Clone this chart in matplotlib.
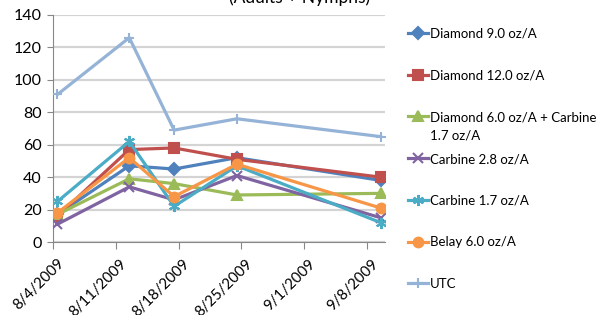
import numpy as np
import pandas as pd
import matplotlib
matplotlib.use('Agg')
import matplotlib.pyplot as plt
import matplotlib.transforms as mtransforms
from matplotlib.lines import Line2D

plt.rcParams['font.family'] = ['Lato', 'DejaVu Sans']

# sample dates (Excel date axis puts points at the middle of the day)
dates = ['2009-08-04', '2009-08-12', '2009-08-17', '2009-08-24', '2009-09-09']

diamond_9 = [17, 47, 45, 52, 38]
diamond_12 = [16, 57, 58, 51, 40]
diamond_carbine = [17, 39, 36, 29, 30]
carbine_28 = [11, 34, 26, 41, 15]
carbine_17 = [25, 62, 22, 47, 12]
belay_6 = [18, 52, 28, 48, 21]
utc = [91, 126, 69, 76, 65]

labels = ['Diamond 9.0 oz/A', 'Diamond 12.0 oz/A', 'Diamond 6.0 oz/A + Carbine\n1.7 oz/A',
          'Carbine 2.8 oz/A', 'Carbine 1.7 oz/A', 'Belay 6.0 oz/A', 'UTC']
tick_dates = ['2009-08-04', '2009-08-11', '2009-08-18', '2009-08-25', '2009-09-01', '2009-09-08']
tick_labels = ['8/4/2009', '8/11/2009', '8/18/2009', '8/25/2009', '9/1/2009', '9/8/2009']

series = [diamond_9, diamond_12, diamond_carbine, carbine_28, carbine_17, belay_6, utc]
colors = ['#4F81BD', '#C0504D', '#9BBB59', '#8064A2', '#4BACC6', '#F79646', '#95B3D7']
markers = ['D', 's', '^', 'x', (6, 2, 0), 'o', '+']
msizes = [6, 7, 7, 7, 8, 7, 7]

x = pd.to_datetime(dates) + pd.Timedelta(hours=12)

fig = plt.figure(figsize=(5.98, 3.15), dpi=100)
ax = fig.add_axes([53 / 598, 1 - 242 / 315, (385 - 53) / 598, (242 - 15) / 315])

# draw UTC first so it sits behind the others
order = [6, 0, 1, 2, 3, 4, 5]
for i in order:
    ax.plot(x, series[i], color=colors[i], lw=2.3, marker=markers[i], ms=msizes[i],
            mew=1.5, zorder=3)

ax.set_ylim(0, 140)
ax.set_yticks(range(0, 141, 20))
ax.set_xlim(pd.Timestamp('2009-08-04'), pd.Timestamp('2009-09-10'))
ax.set_xticks(pd.to_datetime(tick_dates))
ax.set_xticklabels(tick_labels, rotation=45, ha='right', va='center',
                   rotation_mode='anchor', fontsize=10.8)
ax.tick_params(axis='x', length=5, color='#888888', pad=9)
ax.tick_params(axis='y', length=4, color='#888888', labelsize=11.5, pad=4)
shift = mtransforms.ScaledTranslation(9 / 100, 0, fig.dpi_scale_trans)
for lbl in ax.get_xticklabels():
    lbl.set_transform(lbl.get_transform() + shift)

ax.grid(axis='y', color='#d4d4d4', lw=1.6)
ax.set_axisbelow(True)
for s in ['top', 'right']:
    ax.spines[s].set_visible(False)
for s in ['left', 'bottom']:
    ax.spines[s].set_color('#888888')

# title, cut off at top of the image
fig.text(300 / 598, 1 - 3 / 315, '(Adults + Nymphs)', ha='center', va='baseline', fontsize=12.5)

# legend drawn by hand to keep Excel's even spacing
for k in range(len(labels)):
    y = 1 - (33 + k * 41.7) / 315
    fig.add_artist(Line2D([408 / 598, 428 / 598], [y, y], color=colors[k], lw=2.3,
                          transform=fig.transFigure))
    fig.add_artist(Line2D([418 / 598], [y], color=colors[k], marker=markers[k],
                          ms=msizes[k], mew=1.5, transform=fig.transFigure))
    for j, line in enumerate(labels[k].split('\n')):
        fig.text(430 / 598, y - j * 18 / 315, line, ha='left', va='center_baseline',
                 fontsize=9.5)

fig.savefig('out.png', dpi=100)
